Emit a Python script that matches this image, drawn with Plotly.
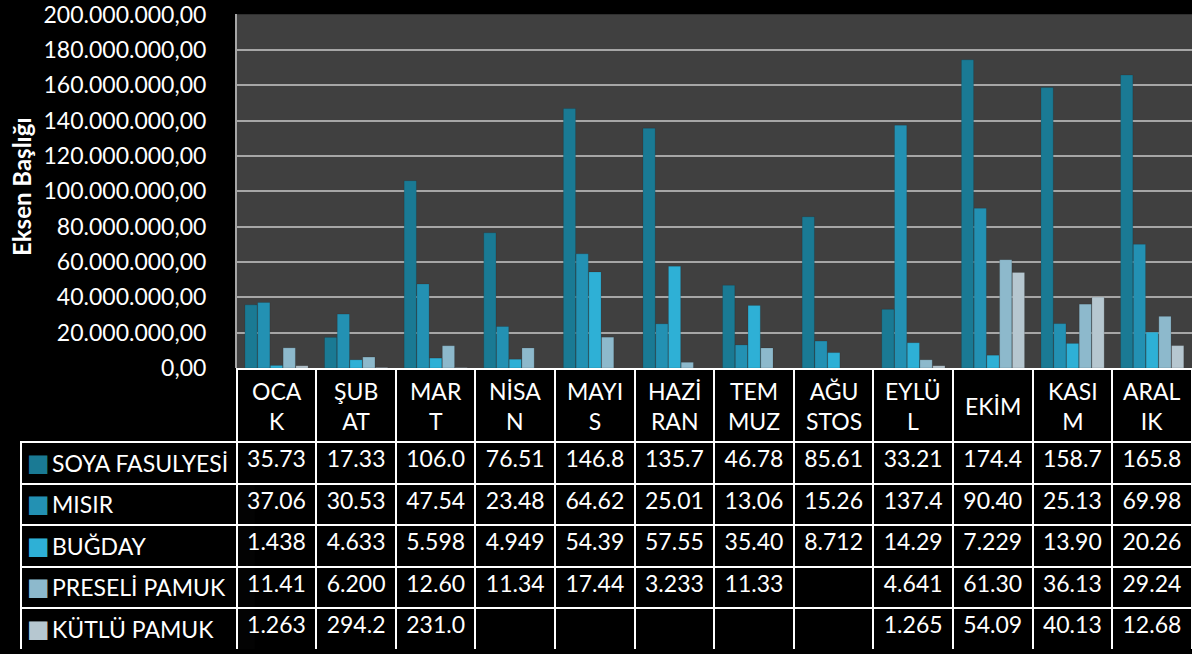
import plotly.graph_objects as go

MONTHS = ["OCAK", "ŞUBAT", "MART", "NİSAN", "MAYIS", "HAZİRAN",
          "TEMMUZ", "AĞUSTOS", "EYLÜL", "EKİM", "KASIM", "ARALIK"]
# month names as they wrap in the data table header
MONTH_LABELS = ["OCA<br>K", "ŞUB<br>AT", "MAR<br>T", "NİSA<br>N", "MAYI<br>S", "HAZİ<br>RAN",
                "TEM<br>MUZ", "AĞU<br>STOS", "EYLÜ<br>L", "EKİM", "KASI<br>M", "ARAL<br>IK"]

SERIES = ["SOYA FASULYESİ", "MISIR", "BUĞDAY", "PRESELİ PAMUK", "KÜTLÜ PAMUK"]

soya = [35.73e6, 17.33e6, 106.0e6, 76.51e6, 146.8e6, 135.7e6,
        46.78e6, 85.61e6, 33.21e6, 174.4e6, 158.7e6, 165.8e6]
misir = [37.06e6, 30.53e6, 47.54e6, 23.48e6, 64.62e6, 25.01e6,
         13.06e6, 15.26e6, 137.4e6, 90.40e6, 25.13e6, 69.98e6]
bugday = [1.438e6, 4.633e6, 5.598e6, 4.949e6, 54.39e6, 57.55e6,
          35.40e6, 8.712e6, 14.29e6, 7.229e6, 13.90e6, 20.26e6]
preseli = [11.41e6, 6.200e6, 12.60e6, 11.34e6, 17.44e6, 3.233e6,
           11.33e6, None, 4.641e6, 61.30e6, 36.13e6, 29.24e6]
kutlu = [1.263e6, 294.2e3, 231.0e3, None, None, None,
         None, None, 1.265e6, 54.09e6, 40.13e6, 12.68e6]

COLORS = ["#1a7a94", "#2391b3", "#2eb0d6", "#8db9cc", "#b6c7d0"]

FONT = "Lato"
W, H = 1192, 654
PLOT_LEFT, PLOT_TOP, PLOT_BOTTOM = 236.7, 14.6, 368.0
HEADER_TOP, HEADER_H, ROW_H = 369.0, 73.0, 41.5
LABEL_LEFT = 20.7


def tr_cell(v):
    # Excel shows the Turkish-formatted number cut to the column width (5 chars)
    if v is None:
        return ""
    s = f"{v:,.2f}".replace(",", "X").replace(".", ",").replace("X", ".")
    return s[:5]


series_values = [soya, misir, bugday, preseli, kutlu]

fig = go.Figure()
for name, vals, col in zip(SERIES, series_values, COLORS):
    fig.add_trace(go.Bar(
        x=MONTHS, y=vals, name=name, showlegend=False,
        marker=dict(color=col, line=dict(color="rgba(0,0,0,0.25)", width=0.5)),
    ))

table_bottom = 1 - (HEADER_TOP + HEADER_H + 5 * ROW_H) / H
rows_top = 1 - (HEADER_TOP + HEADER_H) / H
border = dict(color="white", width=2)
cell_font = dict(family=FONT, size=23, color="white")

# data table: month columns (header text drawn as annotations so each line is centred)
fig.add_trace(go.Table(
    domain=dict(x=[PLOT_LEFT / W, 1.0], y=[table_bottom, 1 - HEADER_TOP / H]),
    header=dict(values=[""] * len(MONTHS), fill_color="black", line=border, font=cell_font, height=HEADER_H),
    cells=dict(values=[[tr_cell(s[i]) for s in series_values] for i in range(len(MONTHS))],
               fill_color="black", line=border, font=cell_font, align="center", height=ROW_H),
))

# data table: series-name column (its text is placed with annotations below)
fig.add_trace(go.Table(
    domain=dict(x=[LABEL_LEFT / W, PLOT_LEFT / W], y=[table_bottom, rows_top]),
    header=dict(values=[""], fill_color="black", line=border, font=cell_font, height=ROW_H),
    cells=dict(values=[[""] * (len(SERIES) - 1)], fill_color="black", line=border, font=cell_font, height=ROW_H),
))

for m, lab in zip(MONTHS, MONTH_LABELS):
    fig.add_annotation(text=lab, x=m, xref="x", y=1 - (HEADER_TOP + HEADER_H / 2) / H, yref="paper",
                       yanchor="middle", showarrow=False, font=cell_font)

for i, (name, col) in enumerate(zip(SERIES, COLORS)):
    yc = 1 - (HEADER_TOP + HEADER_H + ROW_H * (i + 0.5)) / H
    fig.add_annotation(text="■", x=38 / W, y=yc, xref="paper", yref="paper", xanchor="center",
                       yanchor="middle", showarrow=False, font=dict(family="DejaVu Sans", size=24, color=col))
    fig.add_annotation(text=name, x=50 / W, y=yc, xref="paper", yref="paper", xanchor="left",
                       yanchor="middle", showarrow=False, font=cell_font)

fig.add_annotation(text="<b>Eksen Başlığı</b>", textangle=-90, x=21 / W, y=1 - 187 / H,
                   xref="paper", yref="paper", xanchor="center", yanchor="middle", showarrow=False,
                   font=dict(family=FONT, size=24, color="white"))

y_top = 200.2e6
fig.update_layout(
    width=W, height=H, margin=dict(l=0, r=0, t=0, b=0),
    paper_bgcolor="black", plot_bgcolor="#404040",
    separators=",.", barmode="group", bargap=0.2, bargroupgap=0.04,
    font=dict(family=FONT, color="white"),
    xaxis=dict(domain=[PLOT_LEFT / W, 1.0], showticklabels=False, showgrid=False, zeroline=False,
               automargin=False),
    yaxis=dict(domain=[1 - PLOT_BOTTOM / H, 1 - (PLOT_TOP - 0.2 / 200 * (PLOT_BOTTOM - PLOT_TOP)) / H],
               range=[0, y_top], tickvals=[i * 20e6 for i in range(11)], tickformat=",.2f",
               gridcolor="#a6a6a6", gridwidth=1.5, showline=True, linecolor="#a6a6a6", linewidth=1.5,
               zeroline=False, automargin=False, ticklabeloverflow="allow", ticklabelstandoff=24,
               tickfont=dict(family=FONT, size=23, color="white")),
)

fig.write_html("out.html", config={"displayModeBar": False},
               post_script="document.body.style.margin='0';")
